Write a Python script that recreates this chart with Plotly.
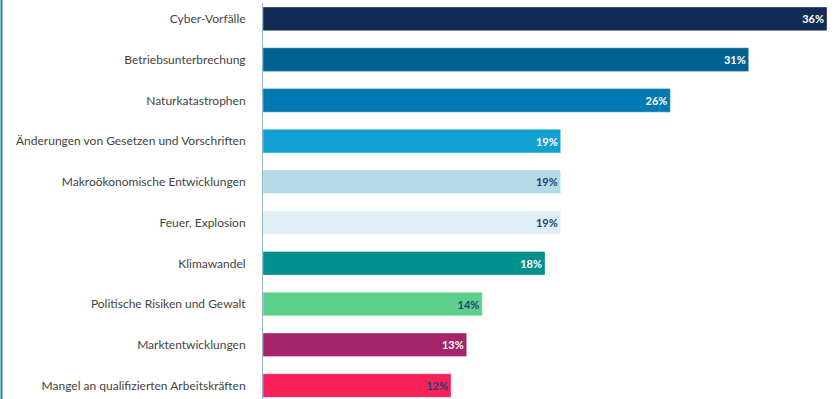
import plotly.graph_objects as go

categories = [
    "Cyber-Vorfälle",
    "Betriebsunterbrechung",
    "Naturkatastrophen",
    "Änderungen von Gesetzen und Vorschriften",
    "Makroökonomische Entwicklungen",
    "Feuer, Explosion",
    "Klimawandel",
    "Politische Risiken und Gewalt",
    "Marktentwicklungen",
    "Mangel an qualifizierten Arbeitskräften",
]
values = [36, 31, 26, 19, 19, 19, 18, 14, 13, 12]
value_labels = [f"{v}%" for v in values]
bar_colors = ["#122b54", "#006192", "#007ab3", "#13a0d3", "#b3dae6",
              "#dfeff4", "#00908d", "#5ecf8b", "#a5256a", "#f8215a"]
text_colors = ["#ffffff", "#ffffff", "#ffffff", "#ffffff", "#1b3f7c",
               "#1b3f7c", "#ffffff", "#1b3f7c", "#ffffff", "#1b3f7c"]

fig = go.Figure(go.Bar(
    x=values,
    y=categories,
    orientation="h",
    width=0.58,
    marker=dict(color=bar_colors, line=dict(color="rgba(255,255,255,0.35)", width=1)),
    text=value_labels,
    textposition="inside",
    insidetextanchor="end",
    textangle=0,
    textfont=dict(family="Lato", size=11, color=text_colors, weight="bold"),
    hoverinfo="skip",
))

fig.update_layout(
    width=837, height=399,
    margin=dict(l=263, r=10, t=3, b=0),
    paper_bgcolor="white", plot_bgcolor="white",
    showlegend=False,
    xaxis=dict(range=[0, 36], visible=False, fixedrange=True),
    yaxis=dict(
        type="category",
        categoryorder="array", categoryarray=categories,
        range=[9.33, -0.388],
        showline=True, linecolor="#9fb3c8", linewidth=1,
        showgrid=False, zeroline=False,
        ticks="", ticklabelstandoff=14,
        tickfont=dict(family="Lato", size=12, color="#444444"),
    ),
    shapes=[dict(type="line", xref="paper", yref="paper",
                 x0=-261.5 / 564, x1=-261.5 / 564, y0=0, y1=1 + 3 / 396,
                 line=dict(color="#1d86a8", width=2))],
)

fig.write_html("out.html")
